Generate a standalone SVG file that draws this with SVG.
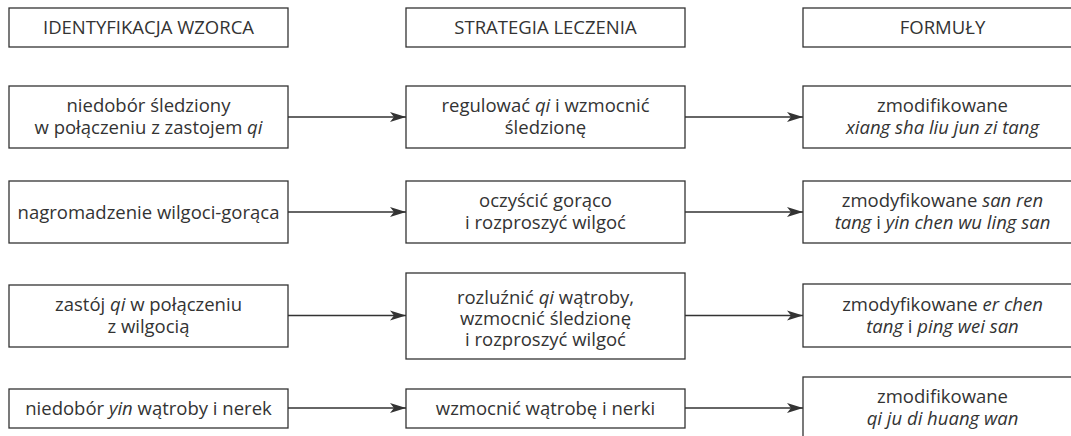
<svg xmlns="http://www.w3.org/2000/svg" width="1071" height="436" viewBox="0 0 1071 436">
<style>
.box{fill:#fff;stroke:#333;stroke-width:1.3}
text{font-family:"Open Sans","Liberation Sans",sans-serif;font-size:18.5px;fill:#333;text-anchor:middle}
.i{font-style:italic}
.con{stroke:#333;stroke-width:1.3;fill:none}
</style>
<defs>
<marker id="ah" markerUnits="userSpaceOnUse" markerWidth="18" markerHeight="12" refX="16" refY="5.5" orient="auto">
<path d="M0,0.5 L16,5.5 L0,10.5 L4,5.5 Z" fill="#333"/>
</marker>
</defs>
<rect width="1071" height="436" fill="#fff"/>
<g id="h1"><rect class="box" x="9" y="8" width="279" height="39"/><text x="148.5" y="34">IDENTYFIKACJA WZORCA</text></g>
<g id="h2"><rect class="box" x="406" y="8" width="279" height="39"/><text x="545.5" y="34">STRATEGIA LECZENIA</text></g>
<g id="h3"><rect class="box" x="803" y="8" width="279" height="39"/><text x="942.5" y="34">FORMUŁY</text></g>

<g id="r1c1"><rect class="box" x="9" y="86" width="279" height="62"/><text x="148.5" y="112">niedobór śledziony<tspan x="148.5" dy="22">w połączeniu z zastojem </tspan><tspan class="i">qi</tspan></text></g>
<g id="r1c2"><rect class="box" x="406" y="86" width="279" height="62"/><text x="545.5" y="112">regulować <tspan class="i">qi</tspan> i wzmocnić<tspan x="545.5" dy="22">śledzionę</tspan></text></g>
<g id="r1c3"><rect class="box" x="803" y="86" width="279" height="62"/><text x="942.5" y="112">zmodifikowane<tspan x="942.5" dy="22" class="i">xiang sha liu jun zi tang</tspan></text></g>

<g id="r2c1"><rect class="box" x="9" y="181" width="279" height="62"/><text x="148.5" y="219">nagromadzenie wilgoci-gorąca</text></g>
<g id="r2c2"><rect class="box" x="406" y="181" width="279" height="62"/><text x="545.5" y="207">oczyścić gorąco<tspan x="545.5" dy="22">i rozproszyć wilgoć</tspan></text></g>
<g id="r2c3"><rect class="box" x="803" y="181" width="279" height="62"/><text x="942.5" y="207">zmodyfikowane <tspan class="i">san ren</tspan><tspan x="942.5" dy="22" class="i">tang</tspan> i <tspan class="i">yin chen wu ling san</tspan></text></g>

<g id="r3c1"><rect class="box" x="9" y="285" width="279" height="62"/><text x="148.5" y="311">zastój <tspan class="i">qi</tspan> w połączeniu<tspan x="148.5" dy="22">z wilgocią</tspan></text></g>
<g id="r3c2"><rect class="box" x="406" y="273" width="279" height="86"/><text x="545.5" y="304">rozluźnić <tspan class="i">qi</tspan> wątroby,<tspan x="545.5" dy="21">wzmocnić śledzionę</tspan><tspan x="545.5" dy="21">i rozproszyć wilgoć</tspan></text></g>
<g id="r3c3"><rect class="box" x="803" y="284" width="279" height="63"/><text x="942.5" y="311">zmodyfikowane <tspan class="i">er chen</tspan><tspan x="942.5" dy="22" class="i">tang</tspan> i <tspan class="i">ping wei san</tspan></text></g>

<g id="r4c1"><rect class="box" x="9" y="389" width="279" height="39"/><text x="148.5" y="415">niedobór <tspan class="i">yin</tspan> wątroby i nerek</text></g>
<g id="r4c2"><rect class="box" x="406" y="389" width="279" height="39"/><text x="545.5" y="415">wzmocnić wątrobę i nerki</text></g>
<g id="r4c3"><rect class="box" x="803" y="377" width="279" height="62"/><text x="942.5" y="403">zmodifikowane<tspan x="942.5" dy="22" class="i">qi ju di huang wan</tspan></text></g>

<g id="connectors" class="con">
<line x1="288" y1="117" x2="406" y2="117" marker-end="url(#ah)"/>
<line x1="685" y1="117" x2="803" y2="117" marker-end="url(#ah)"/>
<line x1="288" y1="212" x2="406" y2="212" marker-end="url(#ah)"/>
<line x1="685" y1="212" x2="803" y2="212" marker-end="url(#ah)"/>
<line x1="288" y1="315.5" x2="406" y2="315.5" marker-end="url(#ah)"/>
<line x1="685" y1="315.5" x2="803" y2="315.5" marker-end="url(#ah)"/>
<line x1="288" y1="408" x2="406" y2="408" marker-end="url(#ah)"/>
<line x1="685" y1="408" x2="803" y2="408" marker-end="url(#ah)"/>
</g>
</svg>
